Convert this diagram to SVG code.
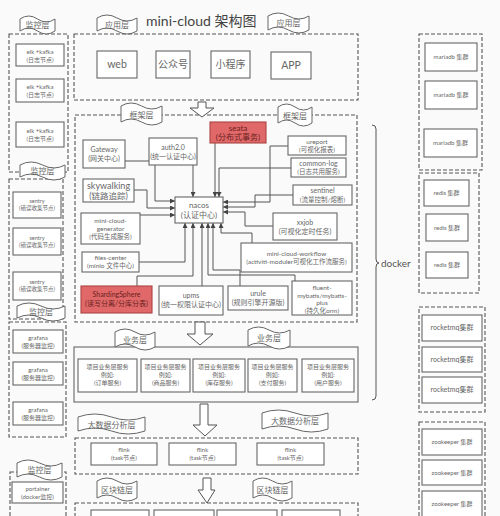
<svg xmlns="http://www.w3.org/2000/svg" width="500" height="516" viewBox="0 0 500 516">
<defs>
<style>
.bg{fill:#fafafa}
.box{fill:#fff;stroke:#666;stroke-width:1.1}
.red{fill:#e06868;stroke:#a94442;stroke-width:1.1}
.dash{fill:none;stroke:#555;stroke-width:1.1;stroke-dasharray:4 2}
.solid{fill:none;stroke:#666;stroke-width:1.1}
.flag{fill:#fff;stroke:#666;stroke-width:1}
.barrow{fill:#fff;stroke:#555;stroke-width:1}
.t{font-family:"Lato","Noto Sans CJK SC",sans-serif;fill:#666;text-anchor:middle}
.conn{fill:none;stroke:#555;stroke-width:1;marker-end:url(#ah)}
</style>
<marker id="ah" viewBox="0 0 6 6" refX="6" refY="3" markerWidth="5" markerHeight="5" orient="auto" markerUnits="userSpaceOnUse"><path d="M0,0 L6,3 L0,6 Z" fill="#444"/></marker>
</defs>
<rect class="bg" x="0" y="0" width="500" height="516"/>

<text x="146" y="26" font-family="Lato,'Noto Sans CJK SC',sans-serif" font-size="14" fill="#444">mini-cloud 架构图</text>

<!-- panels -->
<g id="panels">
<rect class="dash" x="9" y="34" width="59" height="138"/>
<rect class="dash" x="9" y="179" width="54" height="140"/>
<rect class="dash" x="9" y="322" width="57" height="115"/>
<rect class="dash" x="10" y="472" width="56" height="50"/>
<rect class="dash" x="74" y="34" width="284" height="66"/>
<rect class="dash" x="75" y="115" width="282" height="207"/>
<rect class="solid" x="74" y="347" width="284" height="55"/>
<rect class="dash" x="75" y="438" width="283" height="36"/>
<rect class="dash" x="75" y="503" width="283" height="30"/>
<rect class="dash" x="419" y="34" width="63" height="136"/>
<rect class="dash" x="419" y="173" width="60" height="120"/>
<rect class="dash" x="419" y="307" width="66" height="105"/>
<rect class="dash" x="419" y="422" width="66" height="110"/>
</g>

<!-- block arrows -->
<g id="block-arrows">
<path class="barrow" d="M198,102 H206 V108 H214 L202,117 L190,108 H198 Z"/>
<path class="barrow" d="M195,322 H205 V334 H213 L200,345 L187,334 H195 Z"/>
<path class="barrow" d="M200,404 H208 V425 H217 L205,436 L193,425 H200 Z"/>
<path class="barrow" d="M203,478 H211 V490 H215 L207,503 L198,490 H203 Z"/>
</g>

<!-- flags -->
<g id="flags">
<g id="flag-jk1"><path class="flag" d="M20,19 Q28.75,13 37.5,19 T55,19 L55,31 Q46.25,37 37.5,31 T20,31 Z"/><text class="t" x="37.5" y="28" font-size="8">监控层</text></g>
<g id="flag-yy1"><path class="flag" d="M97,18 Q107,12 117,18 T137,18 L137,31 Q127,37 117,31 T97,31 Z"/><text class="t" x="117" y="28" font-size="8">应用层</text></g>
<g id="flag-yy2"><path class="flag" d="M268,16 Q278,10 288.5,16 T309,16 L309,30 Q299,36 288.5,30 T268,30 Z"/><text class="t" x="288.5" y="26" font-size="8">应用层</text></g>
<g id="flag-kj1"><path class="flag" d="M121,106 Q131,100 141.5,106 T162,106 L162,122 Q152,128 141.5,122 T121,122 Z"/><text class="t" x="141.5" y="118" font-size="8">框架层</text></g>
<g id="flag-kj2"><path class="flag" d="M278,107 Q286.5,101 295,107 T312,107 L312,123 Q303.5,129 295,123 T278,123 Z"/><text class="t" x="295" y="119" font-size="8">框架层</text></g>
<g id="flag-jk2"><path class="flag" d="M20,165 Q31,159 42.5,165 T65,165 L65,177 Q54,183 42.5,177 T20,177 Z"/><text class="t" x="42.5" y="174" font-size="8">监控层</text></g>
<g id="flag-jk3"><path class="flag" d="M17,306 Q29,300 41,306 T65,306 L65,318 Q53,324 41,318 T17,318 Z"/><text class="t" x="41" y="315" font-size="8">监控层</text></g>
<g id="flag-jk4"><path class="flag" d="M17,463 Q28,457 39.5,463 T62,463 L62,477 Q51,483 39.5,477 T17,477 Z"/><text class="t" x="39.5" y="473" font-size="8">监控层</text></g>
<g id="flag-yw1"><path class="flag" d="M115,332 Q125,326 135,332 T155,332 L155,347 Q145,353 135,347 T115,347 Z"/><text class="t" x="135" y="343" font-size="8">业务层</text></g>
<g id="flag-yw2"><path class="flag" d="M248,330 Q258.5,324 269,330 T290,330 L290,346 Q279.5,352 269,346 T248,346 Z"/><text class="t" x="269" y="341" font-size="8">业务层</text></g>
<g id="flag-dsj1"><path class="flag" d="M78,417 Q94.75,411 111.5,417 T145,417 L145,431 Q128,437 111.5,431 T78,431 Z"/><text class="t" x="111.5" y="428" font-size="8">大数据分析层</text></g>
<g id="flag-dsj2"><path class="flag" d="M262,413 Q278.5,407 295,413 T328,413 L328,429 Q311.5,435 295,429 T262,429 Z"/><text class="t" x="295" y="424" font-size="8">大数据分析层</text></g>
<g id="flag-qkl1"><path class="flag" d="M97,481 Q107,475 117,481 T137,481 L137,498 Q127,504 117,498 T97,498 Z"/><text class="t" x="117" y="493" font-size="8">区块链层</text></g>
<g id="flag-qkl2"><path class="flag" d="M253,481 Q262.75,475 272.5,481 T292,481 L292,498 Q282,504 272.5,498 T253,498 Z"/><text class="t" x="272.5" y="493" font-size="8">区块链层</text></g>
</g>

<!-- monitoring nodes -->
<g id="elk1"><rect class="box" x="16" y="44" width="48" height="22"/><text class="t" x="40" y="54" font-size="6">elk +kafka</text><text class="t" x="40" y="62" font-size="6">(日志节点)</text></g>
<g id="elk2"><rect class="box" x="16" y="79" width="48" height="23"/><text class="t" x="40" y="89" font-size="6">elk +kafka</text><text class="t" x="40" y="97" font-size="6">(日志节点)</text></g>
<g id="elk3"><rect class="box" x="16" y="122" width="48" height="25"/><text class="t" x="40" y="133" font-size="6">elk +kafka</text><text class="t" x="40" y="141" font-size="6">(日志节点)</text></g>
<g id="sentry1"><rect class="box" x="13" y="192" width="48" height="26"/><text class="t" x="37" y="203" font-size="5.5">sentry</text><text class="t" x="37" y="210" font-size="5.5">(错误收集节点)</text></g>
<g id="sentry2"><rect class="box" x="13" y="228" width="48" height="27"/><text class="t" x="37" y="240" font-size="5.5">sentry</text><text class="t" x="37" y="247" font-size="5.5">(错误收集节点)</text></g>
<g id="sentry3"><rect class="box" x="13" y="272" width="48" height="28"/><text class="t" x="37" y="284" font-size="5.5">sentry</text><text class="t" x="37" y="291" font-size="5.5">(错误收集节点)</text></g>
<g id="grafana1"><rect class="box" x="13" y="330" width="50" height="23"/><text class="t" x="38" y="340" font-size="6">grafana</text><text class="t" x="38" y="348" font-size="6">(服务器监控)</text></g>
<g id="grafana2"><rect class="box" x="13" y="362" width="50" height="23"/><text class="t" x="38" y="372" font-size="6">grafana</text><text class="t" x="38" y="380" font-size="6">(服务器监控)</text></g>
<g id="grafana3"><rect class="box" x="13" y="402" width="50" height="23"/><text class="t" x="38" y="412" font-size="6">grafana</text><text class="t" x="38" y="420" font-size="6">(服务器监控)</text></g>
<g id="portainer"><rect class="box" x="12" y="482" width="51" height="21"/><text class="t" x="37.5" y="491" font-size="6">portainer</text><text class="t" x="37.5" y="499" font-size="6">(docker监控)</text></g>

<!-- application nodes -->
<g id="web"><rect class="box" x="97" y="51" width="40" height="27"/><text class="t" x="117" y="68" font-size="10.5">web</text></g>
<g id="gzh"><rect class="box" x="156" y="51" width="34" height="27"/><text class="t" x="173" y="68" font-size="10">公众号</text></g>
<g id="xcx"><rect class="box" x="211" y="51" width="39" height="27"/><text class="t" x="230.5" y="68" font-size="10">小程序</text></g>
<g id="app"><rect class="box" x="271" y="52" width="40" height="27"/><text class="t" x="291" y="69" font-size="10.5">APP</text></g>

<!-- connectors -->
<g id="connectors">
<path class="conn" d="M125,161 H155 V201 H175"/>
<path class="conn" d="M193,165 V197"/>
<path class="conn" d="M215,143 V197"/>
<path class="conn" d="M291,168 H219 V197"/>
<path class="conn" d="M288,146 H270 V202 H223"/>
<path class="conn" d="M293,195 H255 V207 H223"/>
<path class="conn" d="M273,226 H245 V212 H223"/>
<path class="conn" d="M252,243 V233 H221 V223"/>
<path class="conn" d="M134,190 H147 V208 H175"/>
<path class="conn" d="M140,215 H175"/>
<path class="conn" d="M139,262 H185 V223"/>
<path class="conn" d="M137,286 V276 H193 V223"/>
<path class="conn" d="M202,286 V223"/>
<path class="conn" d="M240,286 V270 H213 V223"/>
<path class="conn" d="M295,281 V275 H208 V223"/>
</g>

<!-- framework nodes -->
<g id="gateway"><rect class="box" x="83" y="140" width="42" height="28"/><text class="t" x="104" y="152" font-size="7">Gateway</text><text class="t" x="104" y="161" font-size="7">(网关中心)</text></g>
<g id="auth"><rect class="box" x="149" y="138" width="48" height="27"/><text class="t" x="173" y="150" font-size="7">auth2.0</text><text class="t" x="173" y="159" font-size="7">(统一认证中心)</text></g>
<g id="seata"><rect class="red" x="210" y="122" width="56" height="21"/><text class="t" x="238" y="131" font-size="8" style="fill:#6b1f1f">seata</text><text class="t" x="238" y="140" font-size="8" style="fill:#6b1f1f">(分布式事务)</text></g>
<g id="skywalking"><rect class="box" x="83" y="179" width="51" height="23"/><text class="t" x="108.5" y="189" font-size="9">skywalking</text><text class="t" x="108.5" y="199" font-size="8.5">(链路追踪)</text></g>
<g id="nacos"><rect class="box" x="175" y="197" width="48" height="26"/><text class="t" x="199" y="208" font-size="8">nacos</text><text class="t" x="199" y="218" font-size="8">(认证中心)</text></g>
<g id="ureport"><rect class="box" x="288" y="136" width="58" height="19"/><text class="t" x="317" y="144" font-size="6.5">ureport</text><text class="t" x="317" y="152" font-size="6.5">(可视化报表)</text></g>
<g id="common-log"><rect class="box" x="291" y="158" width="55" height="19"/><text class="t" x="318.5" y="166" font-size="7">common-log</text><text class="t" x="318.5" y="174" font-size="6.5">(日志共用服务)</text></g>
<g id="sentinel"><rect class="box" x="293" y="185" width="59" height="20"/><text class="t" x="322.5" y="193" font-size="7">sentinel</text><text class="t" x="322.5" y="202" font-size="6.5">(流量控制/熔断)</text></g>
<g id="xxjob"><rect class="box" x="273" y="213" width="64" height="27"/><text class="t" x="305" y="225" font-size="7">xxjob</text><text class="t" x="305" y="234" font-size="7">(可视化定时任务)</text></g>
<g id="workflow"><rect class="box" x="241" y="243" width="111" height="29"/><text class="t" x="296.5" y="256" font-size="6.5">mini-cloud-workflow</text><text class="t" x="296.5" y="264" font-size="6.5">(activiti-moduler可视化工作流服务)</text></g>
<g id="generator"><rect class="box" x="81" y="213" width="59" height="31"/><text class="t" x="110.5" y="223" font-size="6.5">mini-cloud-</text><text class="t" x="110.5" y="231" font-size="6.5">generator</text><text class="t" x="110.5" y="239" font-size="6.5">(代码生成服务)</text></g>
<g id="files-center"><rect class="box" x="82" y="252" width="57" height="20"/><text class="t" x="110.5" y="260" font-size="6.5">files-center</text><text class="t" x="110.5" y="268" font-size="6.5">(minio 文件中心)</text></g>
<g id="sharding"><rect class="red" x="81" y="286" width="71" height="27"/><text class="t" x="116.5" y="297" font-size="7" style="fill:#6b1f1f">ShardingSphere</text><text class="t" x="116.5" y="306" font-size="7" style="fill:#6b1f1f">(读写分离/分库分表)</text></g>
<g id="upms"><rect class="box" x="159" y="286" width="64" height="29"/><text class="t" x="191" y="298" font-size="7">upms</text><text class="t" x="191" y="307" font-size="7">(统一权限认证中心)</text></g>
<g id="urule"><rect class="box" x="228" y="286" width="60" height="24"/><text class="t" x="258" y="296" font-size="7">urule</text><text class="t" x="258" y="305" font-size="7">(规则引擎开源版)</text></g>
<g id="fluent"><rect class="box" x="292" y="281" width="60" height="34"/><text class="t" x="322" y="290" font-size="6.5">fluent-</text><text class="t" x="322" y="298" font-size="6.5">mybatis/mybatis-</text><text class="t" x="322" y="305" font-size="6.5">plus</text><text class="t" x="322" y="313" font-size="6.5">(持久化orm)</text></g>

<!-- business nodes -->
<g id="biz1"><rect class="box" x="78" y="359" width="59" height="33"/><text class="t" x="107.5" y="369" font-size="6">项目业务层服务</text><text class="t" x="107.5" y="377" font-size="6">例如:</text><text class="t" x="107.5" y="385" font-size="6">(订单服务)</text></g>
<g id="biz2"><rect class="box" x="141" y="359" width="49" height="33"/><text class="t" x="165.5" y="369" font-size="6">项目业务层服务</text><text class="t" x="165.5" y="377" font-size="6">例如:</text><text class="t" x="165.5" y="385" font-size="6">(商品服务)</text></g>
<g id="biz3"><rect class="box" x="193" y="359" width="52" height="33"/><text class="t" x="219" y="369" font-size="6">项目业务层服务</text><text class="t" x="219" y="377" font-size="6">例如:</text><text class="t" x="219" y="385" font-size="6">(库存服务)</text></g>
<g id="biz4"><rect class="box" x="248" y="359" width="49" height="33"/><text class="t" x="272.5" y="369" font-size="6">项目业务层服务</text><text class="t" x="272.5" y="377" font-size="6">例如:</text><text class="t" x="272.5" y="385" font-size="6">(支付服务)</text></g>
<g id="biz5"><rect class="box" x="302" y="359" width="52" height="33"/><text class="t" x="328" y="369" font-size="6">项目业务层服务</text><text class="t" x="328" y="377" font-size="6">例如:</text><text class="t" x="328" y="385" font-size="6">(用户服务)</text></g>

<!-- big data -->
<g id="flink1"><rect class="box" x="91" y="443" width="66" height="22"/><text class="t" x="124" y="452" font-size="6">flink</text><text class="t" x="124" y="460" font-size="6">(task节点)</text></g>
<g id="flink2"><rect class="box" x="169" y="443" width="67" height="22"/><text class="t" x="202.5" y="452" font-size="6">flink</text><text class="t" x="202.5" y="460" font-size="6">(task节点)</text></g>
<g id="flink3"><rect class="box" x="257" y="443" width="67" height="22"/><text class="t" x="290.5" y="452" font-size="6">flink</text><text class="t" x="290.5" y="460" font-size="6">(task节点)</text></g>

<!-- blockchain -->
<g id="bc1"><rect class="box" x="91" y="510" width="58" height="20"/></g>
<g id="bc2"><rect class="box" x="154" y="510" width="60" height="20"/></g>
<g id="bc3"><rect class="box" x="217" y="510" width="60" height="20"/></g>
<g id="bc4"><rect class="box" x="282" y="510" width="58" height="20"/></g>

<!-- docker brace -->
<g id="docker">
<path d="M372,125 Q376,125 376,129 L376,259 Q376,263 379,263 Q376,263 376,267 L376,396 Q376,400 372,400" fill="none" stroke="#555" stroke-width="1"/>
<text x="381" y="267" font-family="Lato,'Noto Sans CJK SC',sans-serif" font-size="10" fill="#555">docker</text>
</g>

<!-- right clusters -->
<g id="mariadb1"><rect class="box" x="425" y="43" width="52" height="28"/><text class="t" x="451" y="59" font-size="6">mariadb 集群</text></g>
<g id="mariadb2"><rect class="box" x="425" y="81" width="52" height="28"/><text class="t" x="451" y="97" font-size="6">mariadb 集群</text></g>
<g id="mariadb3"><rect class="box" x="424" y="129" width="53" height="28"/><text class="t" x="450.5" y="145" font-size="6">mariadb 集群</text></g>
<g id="redis1"><rect class="box" x="424" y="180" width="45" height="26"/><text class="t" x="446.5" y="195" font-size="6">redis 集群</text></g>
<g id="redis2"><rect class="box" x="426" y="214" width="42" height="27"/><text class="t" x="447" y="230" font-size="6">redis 集群</text></g>
<g id="redis3"><rect class="box" x="426" y="252" width="42" height="26"/><text class="t" x="447" y="267" font-size="6">redis 集群</text></g>
<g id="rocketmq1"><rect class="box" x="422" y="315" width="60" height="26"/><text class="t" x="452" y="330" font-size="7">rocketmq集群</text></g>
<g id="rocketmq2"><rect class="box" x="422" y="347" width="60" height="25"/><text class="t" x="452" y="362" font-size="7">rocketmq集群</text></g>
<g id="rocketmq3"><rect class="box" x="422" y="377" width="60" height="26"/><text class="t" x="452" y="392" font-size="7">rocketmq集群</text></g>
<g id="zk1"><rect class="box" x="422" y="429" width="60" height="26"/><text class="t" x="452" y="444" font-size="6">zookeeper 集群</text></g>
<g id="zk2"><rect class="box" x="422" y="460" width="60" height="25"/><text class="t" x="452" y="475" font-size="6">zookeeper 集群</text></g>
<g id="zk3"><rect class="box" x="422" y="491" width="60" height="26"/><text class="t" x="452" y="506" font-size="6">zookeeper 集群</text></g>
</svg>
